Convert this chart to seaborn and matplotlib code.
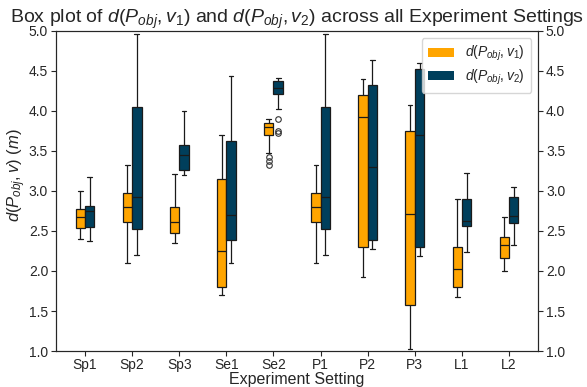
import pandas as pd
import seaborn as sns
import matplotlib.pyplot as plt

settings = ["Sp1", "Sp2", "Sp3", "Se1", "Se2", "P1", "P2", "P3", "L1", "L2"]

# five-number summaries (whisker low, Q1, median, Q3, whisker high)
v1_lo = [2.40, 2.10, 2.35, 1.70, 3.48, 2.10, 1.93, 1.03, 1.68, 2.00]
v1_q1 = [2.54, 2.61, 2.47, 1.80, 3.70, 2.61, 2.30, 1.57, 1.80, 2.16]
v1_med = [2.68, 2.80, 2.61, 2.25, 3.80, 2.80, 3.93, 2.71, 2.02, 2.32]
v1_q3 = [2.77, 2.97, 2.80, 3.15, 3.85, 2.97, 4.20, 3.75, 2.30, 2.43]
v1_hi = [3.00, 3.32, 3.21, 3.70, 3.90, 3.32, 4.40, 4.08, 2.90, 2.68]
v1_out = {"Se2": [3.43, 3.37, 3.33]}

v2_lo = [2.38, 2.20, 3.20, 2.10, 4.02, 2.20, 2.27, 2.19, 2.24, 2.32]
v2_q1 = [2.55, 2.52, 3.26, 2.39, 4.21, 2.52, 2.39, 2.30, 2.56, 2.60]
v2_med = [2.75, 2.92, 3.45, 2.70, 4.29, 2.92, 3.30, 3.70, 2.62, 2.69]
v2_q3 = [2.81, 4.05, 3.58, 3.62, 4.37, 4.05, 4.32, 4.52, 2.90, 2.92]
v2_hi = [3.17, 4.96, 4.00, 4.44, 4.41, 4.96, 4.64, 4.60, 3.22, 3.05]
v2_out = {"Se2": [3.90, 3.75, 3.72]}

label1 = r"$d(P_{obj}, v_1)$"
label2 = r"$d(P_{obj}, v_2)$"


def box_sample(lo, q1, med, q3, hi, out):
    # smallest sample whose quartiles/whiskers reproduce the given summary
    low_out = [o for o in out if o < lo]
    high_out = [o for o in out if o > hi]
    m = max(len(low_out), len(high_out)) + 1
    below = low_out + [lo] * (m - len(low_out))
    above = [hi] * (m - len(high_out)) + high_out
    return below + [q1] * m + [med] * m + [q3] + above


rows = []
for i, s in enumerate(settings):
    for v in box_sample(v1_lo[i], v1_q1[i], v1_med[i], v1_q3[i], v1_hi[i], v1_out.get(s, [])):
        rows.append((s, label1, v))
    for v in box_sample(v2_lo[i], v2_q1[i], v2_med[i], v2_q3[i], v2_hi[i], v2_out.get(s, [])):
        rows.append((s, label2, v))
df = pd.DataFrame(rows, columns=["setting", "metric", "value"])

sns.set_style("ticks")
plt.rcParams["font.family"] = ["Liberation Sans", "DejaVu Sans"]
plt.rcParams["mathtext.fontset"] = "custom"
plt.rcParams["mathtext.rm"] = "Liberation Sans"
plt.rcParams["mathtext.it"] = "Liberation Sans:italic"

fig, ax = plt.subplots(figsize=(5.87, 3.87), dpi=100)
sns.boxplot(data=df, x="setting", y="value", hue="metric", order=settings,
            palette=["#FFA500", "#003F5C"], saturation=1, width=0.4, gap=0,
            linecolor="#1a1a1a", linewidth=0.9, whis=1.5, ax=ax,
            flierprops=dict(marker="o", markerfacecolor="none",
                            markeredgecolor="#333333", markersize=4, markeredgewidth=0.8))

ax.set_xlim(-0.62, 9.62)
ax.set_ylim(1.0, 5.0)
yt = [1.0, 1.5, 2.0, 2.5, 3.0, 3.5, 4.0, 4.5, 5.0]
ax.set_yticks(yt)
ax.set_xlabel("Experiment Setting", fontsize=11.5, labelpad=0)
ax.set_ylabel(r"$d(P_{obj}, v)$ $(m)$", fontsize=12)
ax.yaxis.set_label_coords(-0.058, 0.55)
ax.set_title(r"Box plot of $d(P_{obj}, v_1)$ and $d(P_{obj}, v_2)$ across all Experiment Settings",
             fontsize=14, pad=5)
ax.tick_params(labelsize=10, length=3.5, pad=2)
ax.tick_params(axis="x", pad=1.5)
leg = ax.legend(loc="upper right", fontsize=10, handlelength=1.9, handleheight=0.65,
                borderpad=0.45, labelspacing=0.3, frameon=True)
for h in leg.legend_handles:
    h.set_edgecolor("none")

ax2 = ax.twinx()
ax2.set_ylim(1.0, 5.0)
ax2.set_yticks(yt)
ax2.tick_params(labelsize=10, length=3.5, pad=2)
for a in (ax, ax2):
    for sp in a.spines.values():
        sp.set_visible(True)

plt.subplots_adjust(left=0.095, right=0.917, top=0.92, bottom=0.093)
plt.savefig("out.png", dpi=100)
plt.close()
